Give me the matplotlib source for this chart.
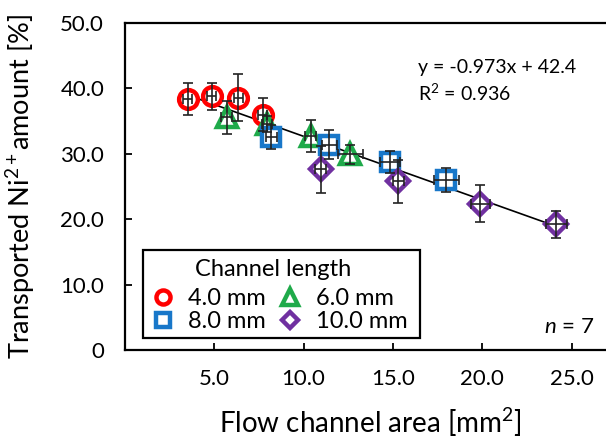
import matplotlib
matplotlib.use("Agg")
import matplotlib.pyplot as plt
import numpy as np
from matplotlib.patches import Rectangle

plt.rcParams['font.family'] = ['Lato', 'DejaVu Sans']
plt.rcParams['mathtext.fontset'] = 'custom'
plt.rcParams['mathtext.rm'] = 'Lato'
plt.rcParams['mathtext.it'] = 'Lato:italic'

# Flow channel area [mm^2] and transported Ni2+ amount [%] per channel length
x_4mm = [3.5, 4.85, 6.35, 7.7]
y_4mm = [38.4, 38.8, 38.6, 36.0]
yerr_4mm = [2.5, 2.1, 3.6, 2.5]
xerr_4mm = [0.25, 0.25, 0.25, 0.25]

x_6mm = [5.7, 7.95, 10.4, 12.6]
y_6mm = [35.6, 34.6, 32.7, 29.9]
yerr_6mm = [2.5, 1.2, 2.4, 1.5]
xerr_6mm = [0.3, 0.3, 0.3, 0.7]

x_8mm = [8.2, 11.45, 14.85, 18.0]
y_8mm = [32.6, 31.4, 28.8, 26.0]
yerr_8mm = [1.8, 2.2, 1.7, 1.9]
xerr_8mm = [0.3, 0.4, 0.55, 0.7]

x_10mm = [10.95, 15.3, 19.9, 24.15]
y_10mm = [27.6, 25.8, 22.4, 19.2]
yerr_10mm = [3.6, 3.3, 2.8, 2.0]
xerr_10mm = [0.3, 0.3, 0.55, 0.6]

fit_slope = -0.973
fit_intercept = 42.4
r_squared = 0.936

x_ticks = [5, 10, 15, 20, 25]
y_ticks = [0, 10, 20, 30, 40, 50]

fig = plt.figure(figsize=(6.06, 4.41), dpi=100)
W, H = 606, 441
left_px, right_px, top_px, bottom_px = 125, 125 + 27.5 * 17.86, 23, 350
ax = fig.add_axes([left_px / W, (H - bottom_px) / H,
                   (right_px - left_px) / W, (bottom_px - top_px) / H])

series = [
    ("4.0 mm", x_4mm, y_4mm, xerr_4mm, yerr_4mm, 'o', '#FF0000', 13.5),
    ("6.0 mm", x_6mm, y_6mm, xerr_6mm, yerr_6mm, '^', '#1FAA4A', 15),
    ("8.0 mm", x_8mm, y_8mm, xerr_8mm, yerr_8mm, 's', '#1877C9', 13),
    ("10.0 mm", x_10mm, y_10mm, xerr_10mm, yerr_10mm, 'D', '#7030A0', 11),
]

handles = {}
for label, xs, ys, xe, ye, mk, col, ms in series:
    h, = ax.plot(xs, ys, linestyle='none', marker=mk, markersize=ms,
                 markerfacecolor='white', markeredgecolor=col,
                 markeredgewidth=3.2, zorder=3, label=label)
    handles[label] = h
    ax.errorbar(xs, ys, xerr=xe, yerr=ye, fmt='none', ecolor='#222222',
                elinewidth=1.2, capsize=3.8, capthick=1.2, zorder=4)

# Linear fit over the full data range
all_x = np.concatenate([x_4mm, x_6mm, x_8mm, x_10mm])
fx = np.array([all_x.min(), all_x.max()])
ax.plot(fx, fit_slope * fx + fit_intercept, color='black', lw=1.2, zorder=2)

ax.text(0.597, 0.865, f"y = {fit_slope:.3f}x + {fit_intercept:.1f}",
        transform=ax.transAxes, fontsize=14, va='center', ha='left')
ax.text(0.597, 0.786, f"R$^{{2}}$ = {r_squared:.3f}",
        transform=ax.transAxes, fontsize=14, va='center', ha='left')
ax.text(0.853, 0.07, "$n$ = 7", transform=ax.transAxes, fontsize=16,
        va='center', ha='left')

ax.set_xlim(0, 27.5)
ax.set_ylim(0, 50)
ax.set_xticks(x_ticks)
ax.set_xticklabels([f"{v:.1f}" for v in x_ticks])
ax.set_yticks(y_ticks)
ax.set_yticklabels(["0" if v == 0 else f"{v:.1f}" for v in y_ticks])
ax.tick_params(axis='both', direction='in', length=5, width=1.3,
               labelsize=16)
ax.tick_params(axis='y', pad=15)
ax.tick_params(axis='x', pad=14)
for s in ['left', 'bottom', 'top']:
    ax.spines[s].set_linewidth(1.6)
ax.spines['right'].set_visible(False)

ax.set_xlabel("Flow channel area [mm$^{2}$]", fontsize=20, labelpad=12)
ax.set_ylabel("Transported Ni$^{2+}$amount [%]", fontsize=19.5, labelpad=17)

leg = ax.legend([handles["4.0 mm"], handles["8.0 mm"],
                 handles["6.0 mm"], handles["10.0 mm"]],
                ["4.0 mm", "8.0 mm", "6.0 mm", "10.0 mm"],
                ncol=2, fontsize=17, frameon=False, markerscale=0.75,
                handlelength=0.95, handletextpad=0.6, columnspacing=0.55,
                labelspacing=0.08, borderpad=0.2, borderaxespad=0,
                loc='lower left', bbox_to_anchor=(0.0448, 0.040))
leg.set_zorder(6)
ax.text(0.301, 0.245, "Channel length", transform=ax.transAxes,
        fontsize=17, ha='center', va='center', zorder=7)
ax.add_patch(Rectangle((0.037, 0.037), 0.564, 0.269, transform=ax.transAxes,
                       fill=True, facecolor='white', edgecolor='black',
                       lw=1.6, zorder=5))

fig.savefig("out.png", dpi=100)
